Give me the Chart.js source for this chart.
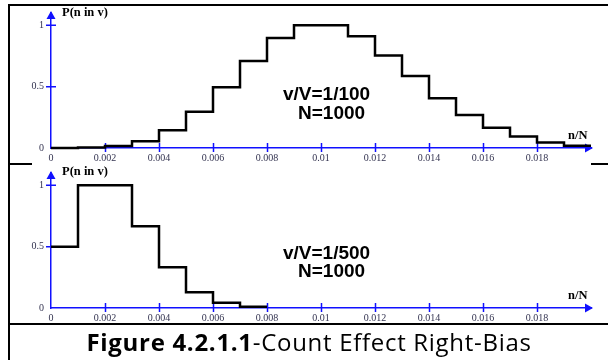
<!DOCTYPE html>
<html>
<head>
<meta charset="utf-8">
<script src="https://cdn.jsdelivr.net/npm/chart.js@4.4.0/dist/chart.umd.min.js"></script>
<style>
    html, body { margin: 0; padding: 0; background: #fff; }
    #page { position: relative; width: 608px; height: 360px; overflow: hidden; background: #fff; }
    canvas { position: absolute; left: 0; }
    .rule { position: absolute; background: #000; }
    .note { position: absolute; font: bold 19px "Liberation Sans", Arial, sans-serif; line-height: 19px; color: #000; white-space: nowrap; }
    .axis-name { position: absolute; font: bold 12.5px "Liberation Serif", "Times New Roman", serif; line-height: 12px; color: #000; white-space: nowrap; }
    #caption { position: absolute; left: 8px; width: 602px; top: 330px; text-align: center; font: 24px "Open Sans", sans-serif; letter-spacing: 0.7px; line-height: 24px; color: #000; white-space: nowrap; }
    #caption b { font-weight: bold; }
</style>
</head>
<body>
<div id="page">
    <div class="rule" style="left:8px; top:4px; width:2px; height:356px;"></div>
    <div class="rule" style="left:8px; top:4px; width:600px; height:2px;"></div>
    <div class="rule" style="left:8px; top:163px; width:24px; height:2px;"></div>
    <div class="rule" style="left:591px; top:163px; width:17px; height:2px;"></div>
    <div class="rule" style="left:8px; top:323px; width:600px; height:2px;"></div>

    <canvas id="topChart" width="608" height="165" style="top:0px;"></canvas>
    <canvas id="bottomChart" width="608" height="165" style="top:160px;"></canvas>

    <div class="axis-name" style="left:62px; top:6px;">P(n in v)</div>
    <div class="axis-name" style="left:568px; top:129px;">n/N</div>
    <div class="note" style="left:283px; top:84px;">v/V=1/100</div>
    <div class="note" style="left:298px; top:103px;">N=1000</div>

    <div class="axis-name" style="left:62px; top:165px;">P(n in v)</div>
    <div class="axis-name" style="left:568px; top:289px;">n/N</div>
    <div class="note" style="left:283px; top:243px;">v/V=1/500</div>
    <div class="note" style="left:298px; top:261px;">N=1000</div>

    <div id="caption"><b>Figure 4.2.1.1</b>-Count Effect Right-Bias</div>
</div>

<script>
// --- DATA ---
// bin edges in n/N, one bin per count n
const topEdges = [0, 0.001, 0.002, 0.003, 0.004, 0.005, 0.006, 0.007, 0.008, 0.009, 0.010,
                  0.011, 0.012, 0.013, 0.014, 0.015, 0.016, 0.017, 0.018, 0.019, 0.020];
const topValues = [0, 0.005, 0.016, 0.054, 0.145, 0.295, 0.494, 0.708, 0.897, 1.0,
                   1.0, 0.91, 0.754, 0.587, 0.405, 0.269, 0.165, 0.093, 0.044, 0.018];

const bottomEdges = [0, 0.001, 0.002, 0.003, 0.004, 0.005, 0.006, 0.007, 0.008];
const bottomValues = [0.5, 1.0, 1.0, 0.667, 0.333, 0.129, 0.042, 0.01];

const xTicks = [0, 0.002, 0.004, 0.006, 0.008, 0.01, 0.012, 0.014, 0.016, 0.018];
const yTicks = [0, 0.5, 1];

// --- STYLE ---
const AXIS_BLUE = '#1010ff';
const LABEL_COLOR = '#333350';

// --- PLUGINS ---
// tick marks crossing the axes and arrow heads at the axis ends
const axisDecor = {
    id: 'axisDecor',
    beforeDatasetsDraw(chart) {
        const { ctx, chartArea: a, scales: { x, y } } = chart;
        ctx.save();
        ctx.strokeStyle = AXIS_BLUE;
        ctx.fillStyle = AXIS_BLUE;
        ctx.lineWidth = 1.5;
        ctx.beginPath();
        x.ticks.forEach(t => {
            if (t.value === 0) return;
            const px = Math.round(x.getPixelForValue(t.value)) + 0.5;
            ctx.moveTo(px, a.bottom - 5);
            ctx.lineTo(px, a.bottom + 4);
        });
        y.ticks.forEach(t => {
            if (t.value === 0) return;
            const py = y.getPixelForValue(t.value);
            ctx.moveTo(a.left - 5, py);
            ctx.lineTo(a.left + 5, py);
        });
        ctx.stroke();

        ctx.beginPath();
        ctx.moveTo(a.left, a.top - 2);
        ctx.lineTo(a.left - 4.5, a.top + 6);
        ctx.lineTo(a.left + 4.5, a.top + 6);
        ctx.closePath();
        ctx.fill();

        ctx.beginPath();
        ctx.moveTo(a.right + 2, a.bottom);
        ctx.lineTo(a.right - 6, a.bottom - 4.5);
        ctx.lineTo(a.right - 6, a.bottom + 4.5);
        ctx.closePath();
        ctx.fill();
        ctx.restore();
    }
};

// --- CHART SETUP ---
// each value holds from its own edge to the next one
function stepPoints(edges, values) {
    return edges.map((x, i) => ({ x: x, y: values[Math.min(i, values.length - 1)] }));
}

function makeChart(canvasId, edges, values) {
    const tickFont = { family: '"Liberation Serif", "Times New Roman", serif', size: 10 };
    return new Chart(document.getElementById(canvasId), {
        type: 'line',
        data: {
            datasets: [{
                data: stepPoints(edges, values),
                stepped: 'before',
                borderColor: '#000',
                borderWidth: 2.5,
                pointRadius: 0,
                fill: false,
                clip: false
            }]
        },
        options: {
            responsive: false,
            animation: false,
            devicePixelRatio: 1,
            layout: { padding: { top: 6, right: 17, left: 0, bottom: 0 } },
            plugins: { legend: { display: false }, tooltip: { enabled: false } },
            scales: {
                x: {
                    type: 'linear',
                    min: 0,
                    max: 0.02,
                    afterBuildTicks: s => { s.ticks = xTicks.map(v => ({ value: v })); },
                    afterFit: s => { s.height = 17; },
                    ticks: {
                        autoSkip: false,
                        maxRotation: 0,
                        padding: 4,
                        color: LABEL_COLOR,
                        font: tickFont,
                        callback: v => String(v)
                    },
                    grid: { drawOnChartArea: false, drawTicks: false },
                    border: { color: AXIS_BLUE, width: 1.5 }
                },
                y: {
                    min: 0,
                    max: 1.1,
                    afterBuildTicks: s => { s.ticks = yTicks.map(v => ({ value: v })); },
                    afterFit: s => { s.width = 51; },
                    ticks: {
                        padding: 7,
                        color: LABEL_COLOR,
                        font: tickFont,
                        callback: v => String(v)
                    },
                    grid: { drawOnChartArea: false, drawTicks: false },
                    border: { color: AXIS_BLUE, width: 1.5 }
                }
            }
        },
        plugins: [axisDecor]
    });
}

makeChart('topChart', topEdges, topValues);
makeChart('bottomChart', bottomEdges, bottomValues);
</script>
</body>
</html>
